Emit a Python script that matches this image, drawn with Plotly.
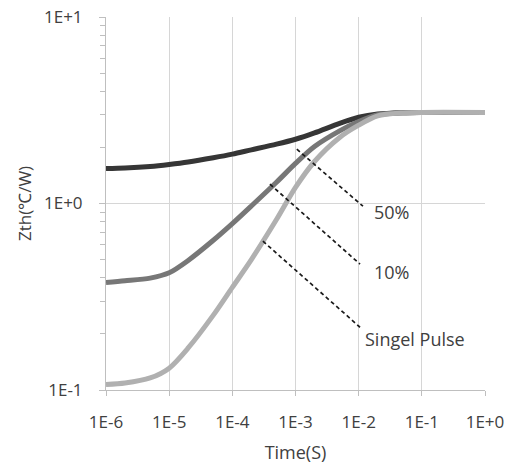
import math
import plotly.graph_objects as go

# Transient thermal impedance curves, Zth (°C/W) versus pulse time (s)
time_s = [1e-6, 2e-6, 5e-6, 1e-5, 2e-5, 5e-5, 1e-4, 2e-4, 5e-4,
          1e-3, 2e-3, 5e-3, 1e-2, 2e-2, 5e-2, 1e-1, 1.0]
zth_50 = [1.54, 1.55, 1.58, 1.62, 1.67, 1.76, 1.84, 1.94, 2.08,
          2.21, 2.39, 2.69, 2.90, 3.02, 3.07, 3.08, 3.08]
zth_10 = [0.377, 0.385, 0.398, 0.425, 0.495, 0.635, 0.78, 0.97, 1.30,
          1.64, 2.02, 2.45, 2.75, 2.99, 3.07, 3.08, 3.08]
zth_single = [0.107, 0.109, 0.116, 0.131, 0.168, 0.252, 0.355, 0.50, 0.82,
              1.22, 1.68, 2.26, 2.63, 2.95, 3.06, 3.08, 3.08]

series_names = ["50%", "10%", "Singel Pulse"]
series_values = [zth_50, zth_10, zth_single]
series_colors = ["#363636", "#777777", "#b0b0b0"]

# Leader lines: (start time, start Zth, end time, end Zth) and label anchors
leader_lines = [
    (1.05e-3, 1.955, 1.17e-2, 0.967),
    (3.94e-4, 1.269, 1.05e-2, 0.473),
    (3.05e-4, 0.628, 1.05e-2, 0.217),
]
label_pos = [(1.62e-2, 0.898), (1.62e-2, 0.428), (1.17e-2, 0.1875)]

x_tickvals = [1e-6, 1e-5, 1e-4, 1e-3, 1e-2, 1e-1, 1.0]
x_ticktext = ["1E-6", "1E-5", "1E-4", "1E-3", "1E-2", "1E-1", "1E+0"]
y_tickvals = [0.1, 1.0, 10.0]
y_ticktext = ["1E-1", "1E+0", "1E+1"]
y_minor = [k * 0.1 for k in range(2, 10)] + [float(k) for k in range(2, 10)]

font_family = "Open Sans, Liberation Sans, sans-serif"
text_color = "#404040"
axis_color = "#bfbfbf"
grid_color = "#d6d6d6"

fig = go.Figure()

for name, vals, color in zip(series_names, series_values, series_colors):
    fig.add_trace(go.Scatter(
        x=time_s, y=vals, mode="lines", name=name,
        line=dict(color=color, width=5, shape="spline", smoothing=0.8),
        showlegend=False,
    ))

for (x0, y0, x1, y1) in leader_lines:
    fig.add_trace(go.Scatter(
        x=[x0, x1], y=[y0, y1], mode="lines",
        line=dict(color="#1a1a1a", width=1.7, dash="4px,3px"),
        showlegend=False, hoverinfo="skip",
    ))

for name, (lx, ly) in zip(series_names, label_pos):
    fig.add_annotation(
        x=math.log10(lx), y=math.log10(ly), xref="x", yref="y",
        text=name, showarrow=False, xanchor="left", yanchor="middle",
        font=dict(family=font_family, size=18, color=text_color),
    )

fig.update_xaxes(
    type="log", range=[-6, 0], automargin=False,
    tickvals=x_tickvals, ticktext=x_ticktext,
    showgrid=True, gridcolor=grid_color, gridwidth=1,
    showline=True, linecolor=axis_color, linewidth=1,
    ticks="outside", ticklen=5, tickcolor=axis_color,
    ticklabelstandoff=12,
    tickfont=dict(family=font_family, size=17, color=text_color),
    title=dict(text="Time(S)", font=dict(family=font_family, size=18, color=text_color), standoff=13),
    zeroline=False,
)
fig.update_yaxes(
    type="log", range=[-1, 1], automargin=False,
    tickvals=y_tickvals, ticktext=y_ticktext,
    showgrid=True, gridcolor=grid_color, gridwidth=1,
    showline=True, linecolor=axis_color, linewidth=1,
    ticks="outside", ticklen=6, tickcolor=axis_color,
    ticklabelstandoff=13,
    minor=dict(tickvals=y_minor, ticks="outside", ticklen=5, tickcolor=axis_color, showgrid=False),
    tickfont=dict(family=font_family, size=17, color=text_color),
    title=dict(text="Zth(℃/W)", font=dict(family=font_family, size=17, color=text_color), standoff=8),
    zeroline=False,
)

fig.update_layout(
    width=511, height=466,
    margin=dict(l=106, r=26, t=17, b=76),
    paper_bgcolor="white", plot_bgcolor="white",
    showlegend=False,
)

fig.write_html("out.html")
